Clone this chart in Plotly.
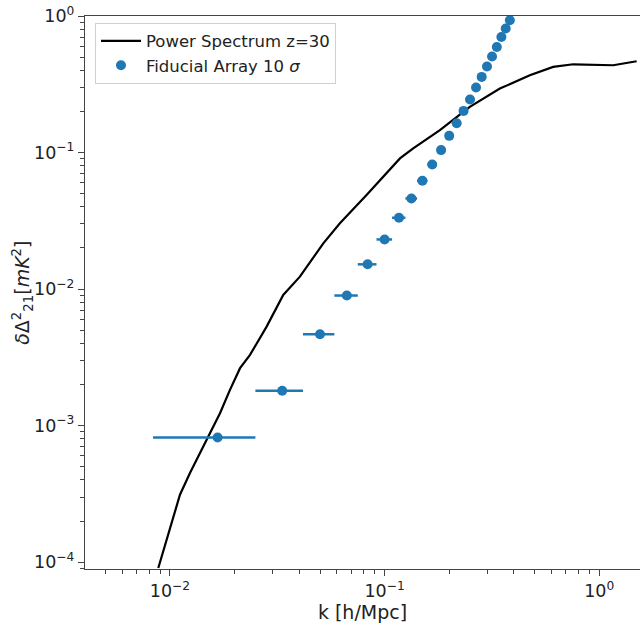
import plotly.graph_objects as go

# Power spectrum z=30 (black line)
ps_k = [0.00882, 0.01113, 0.01239, 0.0138, 0.01536, 0.0171, 0.01903, 0.0212, 0.0236,
        0.0282, 0.0337, 0.0403, 0.0518, 0.0619, 0.0824, 0.1022, 0.1179, 0.1359,
        0.181, 0.2495, 0.3444, 0.475, 0.61, 0.756, 1.162, 1.494]
ps_val = [9.07e-5, 3.12e-4, 4.50e-4, 6.29e-4, 8.81e-4, 1.233e-3, 1.827e-3, 2.635e-3, 3.30e-3,
          5.31e-3, 9.05e-3, 0.01233, 0.02163, 0.0303, 0.0488, 0.0703, 0.0906, 0.1072,
          0.146, 0.216, 0.294, 0.368, 0.424, 0.443, 0.436, 0.466]

# Fiducial Array 10 sigma (points with k-bin error bars)
fid_k = [0.01667, 0.03333, 0.05, 0.06667, 0.08333, 0.1, 0.11667, 0.13333, 0.15, 0.16667,
         0.18333, 0.2, 0.21667, 0.23333, 0.25, 0.26667, 0.28333, 0.3, 0.31667, 0.33333,
         0.35, 0.36667, 0.38333]
fid_val = [8.18e-4, 1.80e-3, 4.67e-3, 8.97e-3, 0.01518, 0.0231, 0.0333, 0.0461, 0.0622, 0.0818,
           0.1042, 0.1325, 0.164, 0.2018, 0.2446, 0.2994, 0.358, 0.4263, 0.5046, 0.593,
           0.7015, 0.809, 0.93]
fid_kerr = [0.008333] * len(fid_k)

x_tickvals = [0.01, 0.1, 1]
x_ticktext = ["10<sup>−2</sup>", "10<sup>−1</sup>", "10<sup>0</sup>"]
y_tickvals = [1e-4, 1e-3, 1e-2, 1e-1, 1]
y_ticktext = ["10<sup>−4</sup>", "10<sup>−3</sup>", "10<sup>−2</sup>", "10<sup>−1</sup>", "10<sup>0</sup>"]

minor_x = [m * 10.0 ** e for e in (-3, -2, -1, 0) for m in range(2, 10)]
minor_y = [m * 10.0 ** e for e in (-5, -4, -3, -2, -1) for m in range(2, 10)]

font_family = "DejaVu Sans, Arial, sans-serif"

fig = go.Figure()
fig.add_trace(go.Scatter(
    x=ps_k, y=ps_val, mode="lines", name="Power Spectrum z=30",
    line=dict(color="black", width=2.2),
))
fig.add_trace(go.Scatter(
    x=fid_k, y=fid_val, mode="markers", name="Fiducial Array 10 <i>σ</i>",
    marker=dict(color="#1f77b4", size=10),
    error_x=dict(type="data", array=fid_kerr, visible=True, color="#1f77b4",
                 thickness=2.5, width=0),
))

axis_common = dict(
    type="log", showgrid=False, zeroline=False, showline=True, mirror=True,
    linecolor="#444444", linewidth=1.2, ticks="outside", ticklen=6, tickwidth=1.2,
    tickcolor="#444444", tickfont=dict(size=17.5, color="#222222", family=font_family),
    automargin=False,
)

fig.update_xaxes(
    **axis_common, range=[-2.396, 0.19],
    tickvals=x_tickvals, ticktext=x_ticktext,
    minor=dict(tickvals=minor_x, ticks="outside", ticklen=3.5, tickwidth=1, tickcolor="#444444"),
    title=dict(text="k [h/Mpc]", font=dict(size=19, color="#222222", family=font_family), standoff=0),
)
fig.update_yaxes(
    **axis_common, range=[-4.05, 0],
    tickvals=y_tickvals, ticktext=y_ticktext,
    minor=dict(tickvals=minor_y, ticks="outside", ticklen=3.5, tickwidth=1, tickcolor="#444444"),
)

fig.add_annotation(
    text="<i>δ</i>Δ<sup>2</sup><sub>21</sub>[<i>mK</i><sup>2</sup>]",
    xref="paper", yref="paper", x=-0.113, y=0.5, xanchor="center", yanchor="middle",
    textangle=-90, showarrow=False,
    font=dict(size=19, color="#222222", family=font_family),
)

fig.update_layout(
    width=640, height=625,
    margin=dict(l=85, r=0, t=16, b=56),
    paper_bgcolor="white", plot_bgcolor="white",
    font=dict(family=font_family, color="#222222"),
    showlegend=True,
    legend=dict(
        x=0.018, y=0.988, xanchor="left", yanchor="top",
        bgcolor="rgba(255,255,255,0.85)", bordercolor="#d0d0d0", borderwidth=1,
        font=dict(size=16.5, color="#222222", family=font_family),
        itemwidth=40, tracegroupgap=2,
    ),
)

# remove the browser's default 8px body margin so the figure sits at the page origin
fig.write_html("out.html", config={"displayModeBar": False},
               post_script="document.body.style.margin='0px';")
